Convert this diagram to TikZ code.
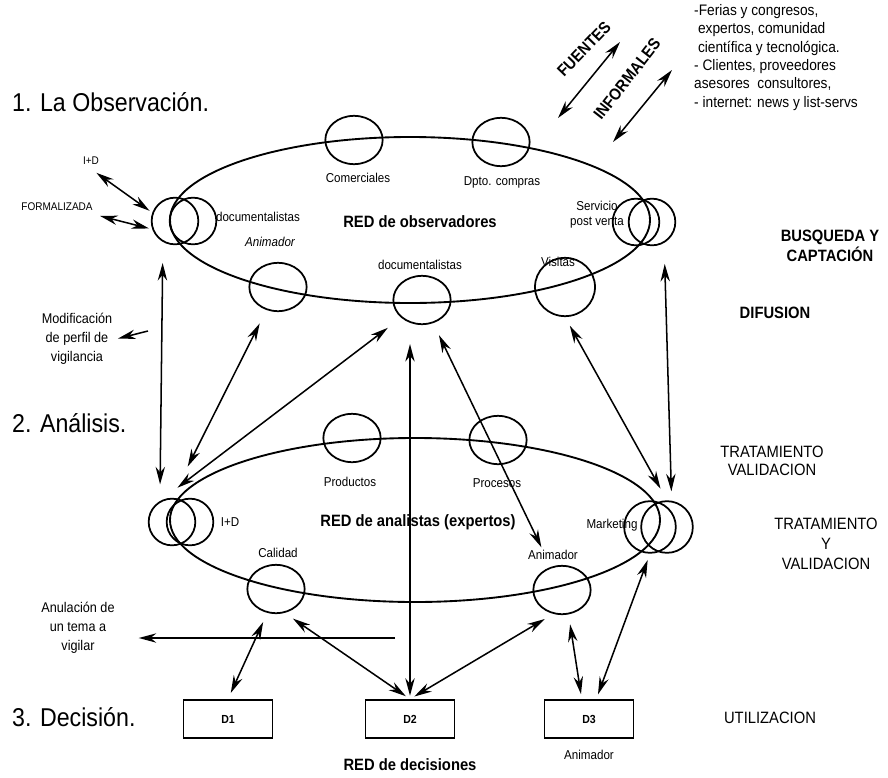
\documentclass[tikz,border=0pt]{standalone}
\usepackage{fontspec}
\setmainfont{Liberation Sans}[FakeStretch=0.9]
\usetikzlibrary{shapes.geometric,arrows.meta}

\tikzset{
  anillo/.style={ellipse, draw, line width=1.6pt, inner sep=0pt},
  nodo/.style={ellipse, draw, line width=1.5pt, minimum width=1.72cm, minimum height=1.45cm, inner sep=0pt},
  extremo/.style={circle, draw, line width=1.5pt, minimum size=1.4cm, inner sep=0pt},
  caja/.style={draw, line width=1.6pt, minimum width=2.67cm, minimum height=1.14cm, font=\fontsize{10}{12}\selectfont\bfseries},
  doble/.style={{Stealth[length=15pt,width=8pt]}-{Stealth[length=15pt,width=8pt]}, line width=1.3pt},
  simple/.style={-{Stealth[length=15pt,width=8pt]}, line width=1.3pt},
  lbl/.style={font=\fontsize{11}{13}\selectfont, align=center},
  redtxt/.style={font=\fontsize{14}{16}\selectfont\bfseries},
  tit/.style={anchor=west, font=\fontsize{22}{26}\selectfont},
  nota/.style={font=\fontsize{12}{16}\selectfont, align=center},
  fase/.style={font=\fontsize{14}{17}\selectfont, align=center},
  bloque/.style={font=\fontsize{13}{15.7}\selectfont, align=left, inner sep=0pt},
}

\begin{document}
\begin{tikzpicture}[x=0.03cm, y=-0.03cm]
\useasboundingbox (0,0) rectangle (888,777);

% redes
\node[anillo, minimum width=14.4cm, minimum height=4.98cm] (obs) at (410,220) {};
\node[anillo, minimum width=14.7cm, minimum height=4.92cm] (ana) at (415,520) {};

% red de observadores
\node[nodo] (comc) at (354,140) {};
\node[nodo] (dptc) at (501,142) {};
\node[nodo] (animc) at (278,287) {};
\node[nodo] (docc) at (422,300) {};
\node[nodo, minimum width=1.8cm, minimum height=1.75cm] (visc) at (565,287) {};
\node[extremo] (obsL1) at (175,221) {};
\node[extremo] (obsL2) at (193,221) {};
\node[extremo] (obsR1) at (636,222) {};
\node[extremo] (obsR2) at (652,222) {};

\node[lbl] (comt) at (358,178) {Comerciales};
\node[lbl] (dptt) at (502,182) {Dpto. compras};
\node[lbl] (doct1) at (258,217) {documentalistas};
\node[lbl, font=\fontsize{11}{13}\selectfont\itshape] (animt) at (270,242) {Animador};
\node[redtxt] (obst) at (420,222) {RED de observadores};
\node[lbl] (servt) at (597,215) {Servicio\\post venta};
\node[lbl] (doct2) at (420,265) {documentalistas};
\node[lbl] (vist) at (558,262) {Visitas};

% red de analistas
\node[nodo] (prodc) at (352,438) {};
\node[nodo] (procc) at (498,440) {};
\node[nodo] (calc) at (276,589) {};
\node[nodo] (animc2) at (562,590) {};
\node[extremo] (anaL1) at (172,522) {};
\node[extremo] (anaL2) at (190,522) {};
\node[extremo, minimum size=1.55cm] (anaR1) at (650,527) {};
\node[extremo, minimum size=1.55cm] (anaR2) at (667,527) {};

\node[lbl] (prodt) at (350,482) {Productos};
\node[lbl] (proct) at (497,483) {Procesos};
\node[lbl] (idt) at (230,522) {I+D};
\node[redtxt] (anat) at (418,522) {RED de analistas (expertos)};
\node[lbl] (mktt) at (612,525) {Marketing};
\node[lbl] (calt) at (278,553) {Calidad};
\node[lbl] (animt2) at (553,555) {Animador};

% red de decisiones
\node[caja] (d1) at (228,719) {D1};
\node[caja] (d2) at (410,719) {D2};
\node[caja] (d3) at (589,719) {D3};
\node[redtxt] (dect) at (410,765) {RED de decisiones};
\node[lbl] (animt3) at (589,755) {Animador};

% titulos
\node[tit] (t1) at (8,102) {1. La Observación.};
\node[tit] (t2) at (8,423) {2. Análisis.};
\node[tit] (t3) at (8,717) {3. Decisión.};

% fuentes
\node[lbl, font=\fontsize{9.5}{11}\selectfont] (idf) at (91,161) {I+D};
\node[lbl, font=\fontsize{9.5}{11}\selectfont] (formt) at (57,207) {FORMALIZADA};
\node[fase, font=\fontsize{14}{17}\selectfont\bfseries, rotate=46] (fuent) at (584,49) {FUENTES};
\node[fase, font=\fontsize{14}{17}\selectfont\bfseries, rotate=52] (infot) at (627,79) {INFORMALES};
\node[bloque, anchor=north west] (listt) at (694,4) {-Ferias y congresos,\\
  \ expertos, comunidad\\
  \ científica y tecnológica.\\
  - Clientes, proveedores\\
  asesores\ \ consultores,\\
  - internet: news y list-servs};

% notas
\node[nota] (modt) at (77,339) {Modificación\\de perfil de\\vigilancia};
\node[nota] (anult) at (78,628) {Anulación de\\un tema a\\vigilar};

% fases
\node[fase, font=\fontsize{14}{17}\selectfont\bfseries] (busq) at (830,246) {BUSQUEDA Y\\CAPTACIÓN};
\node[fase, font=\fontsize{14}{17}\selectfont\bfseries] (difu) at (775,313) {DIFUSION};
\node[fase, font=\fontsize{14}{15.4}\selectfont] (trat1) at (772,461) {TRATAMIENTO\\VALIDACION};
\node[fase] (trat2) at (826,544) {TRATAMIENTO\\Y\\VALIDACION};
\node[fase] (util) at (770,718) {UTILIZACION};

% flechas de las fuentes
\draw[doble, shorten <=0.2cm, shorten >=0.1cm] (idf.south) -- (obsL1.160);
\draw[doble, shorten <=0.1cm, shorten >=0.1cm] (formt.south east) -- (obsL1.200);
\coordinate (fa1) at (558,118);
\coordinate (fa2) at (620,42);
\draw[doble] (fa1) -- (fa2);
\coordinate (fb1) at (613,142);
\coordinate (fb2) at (672,70);
\draw[doble] (fb1) -- (fb2);

% observadores - analistas
\draw[doble, shorten <=0.63cm, shorten >=0.5cm] (obsL1.240) -- (anaL1.120);
\draw[doble, shorten <=0.45cm, shorten >=1.05cm] (animc) -- (anaL1.north);
\draw[doble, shorten <=0.5cm, shorten >=0.85cm] (docc.south west) -- (anaL1.north west);
\draw[doble, shorten <=0.4cm, shorten >=0.65cm] (docc) -- (animc2);
\draw[doble, shorten <=0.3cm, shorten >=0.4cm] (visc.south) -- (anaR2.north);
\draw[doble, shorten <=0.63cm, shorten >=0.28cm] (obsR2.300) -- (anaR2.80);
\draw[doble, shorten <=0.57cm, shorten >=0.1cm] (d2.north |- docc.south) -- (d2.north);

% analistas - decisiones
\draw[doble, shorten <=0.3cm, shorten >=0.2cm] (calc.250) -- (d1.north);
\draw[doble, shorten <=0.3cm, shorten >=0.15cm] (calc.290) -- (d2.north);
\draw[doble, shorten <=0.3cm, shorten >=0.15cm] (animc2.250) -- (d2.north);
\draw[doble, shorten <=0.3cm, shorten >=0.15cm] (animc2.285) -- (d3.110);
\draw[doble, shorten <=0.2cm, shorten >=0.15cm] (anaR1.south) -- (d3.70);

% notas
\coordinate (modo) at (148,331);
\draw[simple, shorten >=0.05cm] (modo) -- (modt.east);
\coordinate (anulo) at (395,638);
\draw[simple, shorten >=0.6cm] (anulo) -- (anult.east |- anulo);

\end{tikzpicture}
\end{document}
